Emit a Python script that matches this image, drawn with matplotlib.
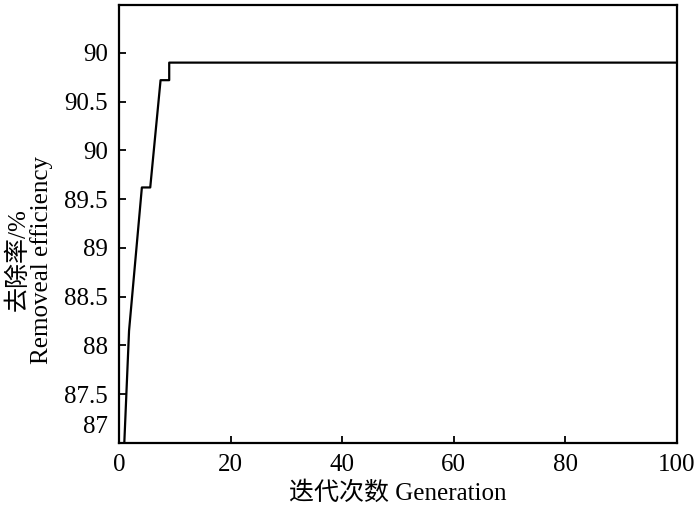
import matplotlib
matplotlib.use("Agg")
import matplotlib.pyplot as plt
import matplotlib.transforms as mtransforms

plt.rcParams['font.family'] = ['Liberation Serif', 'Noto Sans CJK SC', 'DejaVu Sans']

# convergence curve
generation = [0.95, 1.8, 4.1, 5.6, 7.45, 9.0, 9.0, 100]
efficiency = [87.0, 88.15, 89.62, 89.62, 90.72, 90.72, 90.9, 90.9]

x_ticks = [0, 20, 40, 60, 80, 100]
y_ticks = [87, 87.5, 88, 88.5, 89, 89.5, 90, 90.5, 91]
y_tick_labels = ['87', '87.5', '88', '88.5', '89', '89.5', '90', '90.5', '90']

fig = plt.figure(figsize=(7, 5.08), dpi=100)
ax = fig.add_axes([0.170, 0.128, 0.797, 0.862])

ax.plot(generation, efficiency, color='black', lw=1.6)

ax.set_xlim(0, 100)
ax.set_ylim(87, 91.49)
ax.set_xticks(x_ticks)
ax.set_yticks(y_ticks)
ax.set_yticklabels(y_tick_labels)
ax.tick_params(direction='in', length=5, width=1.3, labelsize=18,
               top=False, right=False, pad=8)
for s in ax.spines.values():
    s.set_linewidth(1.6)

# the lowest label sits a bit above its tick in the original
lbl = ax.get_yticklabels()[0]
lbl.set_transform(lbl.get_transform() +
                  mtransforms.ScaledTranslation(0, 13 / 72, fig.dpi_scale_trans))

ax.set_xlabel('迭代次数 Generation', fontsize=18, labelpad=4)
ax.set_ylabel('去除率/%\nRemoveal efficiency', fontsize=18, linespacing=1.05)
ax.yaxis.set_label_coords(-0.118, 0.418)

fig.savefig('out.png', dpi=100)
